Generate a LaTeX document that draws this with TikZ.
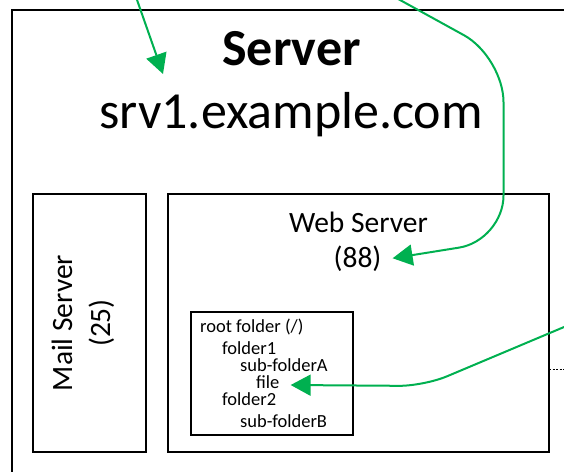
\documentclass[tikz,border=0pt]{standalone}
\usepackage{fontspec}
\setmainfont{Carlito}
\usetikzlibrary{arrows.meta}
\definecolor{linkgreen}{HTML}{00B050}
\begin{document}
\begin{tikzpicture}[x=1pt,y=-1pt,
  frame/.style={draw=black, line width=1.2pt, inner sep=0pt, outer sep=0pt},
  link/.style={draw=linkgreen, line width=2pt, -{Triangle[length=20pt,width=21pt]}},
  title/.style={font=\fontsize{52}{63}\selectfont, inner sep=0pt, anchor=base},
  label/.style={font=\fontsize{29.5}{35}\selectfont, inner sep=0pt, anchor=base},
  tree/.style={font=\fontsize{18.5}{22}\selectfont, inner sep=0pt, anchor=base west}]
\useasboundingbox (0,0) rectangle (564,471);
\clip (0,0) rectangle (564,471);

% outer server box, running past the right and bottom edges
\node[frame, minimum width=588pt, minimum height=490pt] (server) at (306,255) {};
\node[title, font=\fontsize{52}{63}\selectfont\bfseries] (servername) at (291.5,65) {Server};
\node[title] (host) at (291,128) {srv1.example.com};

% mail server
\node[frame, minimum width=113pt, minimum height=258pt] (mail) at (89.5,323) {};
\node[label, rotate=90] (mail1) at (72,323) {Mail Server};
\node[label, rotate=90] (mail2) at (110,323) {(25)};

% web server
\node[frame, minimum width=381pt, minimum height=258pt] (web) at (358.5,323) {};
\node[label] (web1) at (358.5,232) {Web Server};
\node[label, inner xsep=11pt] (n88) at (357.5,267) {(88)};

% document root tree
\node[frame, minimum width=162pt, minimum height=123pt] (root) at (272,373.5) {};
\node[tree] (t0) at (200,332) {root folder (/)};
\node[tree] (t1) at (222,354) {folder1};
\node[tree] (t2) at (240,371) {sub-folderA};
\node[tree] (file) at (256,388) {file};
\node[tree] (t4) at (222,405.5) {folder2};
\node[tree] (t5) at (240,427) {sub-folderB};

% small dotted stub to the right of the web server
\coordinate (stub) at (570,369);
\draw[line width=1pt, dash pattern=on 2pt off 1.5pt] (web.east |- stub) -- (stub);

% incoming links
\coordinate (src1) at (136,-3);
\coordinate (hosttip) at (163,74);
\draw[link] (src1) -- (hosttip);

\coordinate (src2) at (396.4,-2);
\draw[link, rounded corners=45pt] (src2) -- (503.5,57) -- (503.5,240.5) -- (n88.east);

\coordinate (src3) at (570,324.5);
\draw[link, rounded corners=25pt] (src3) -- (424,386) -- ([xshift=11pt,yshift=3pt]file.base east);
\end{tikzpicture}
\end{document}
